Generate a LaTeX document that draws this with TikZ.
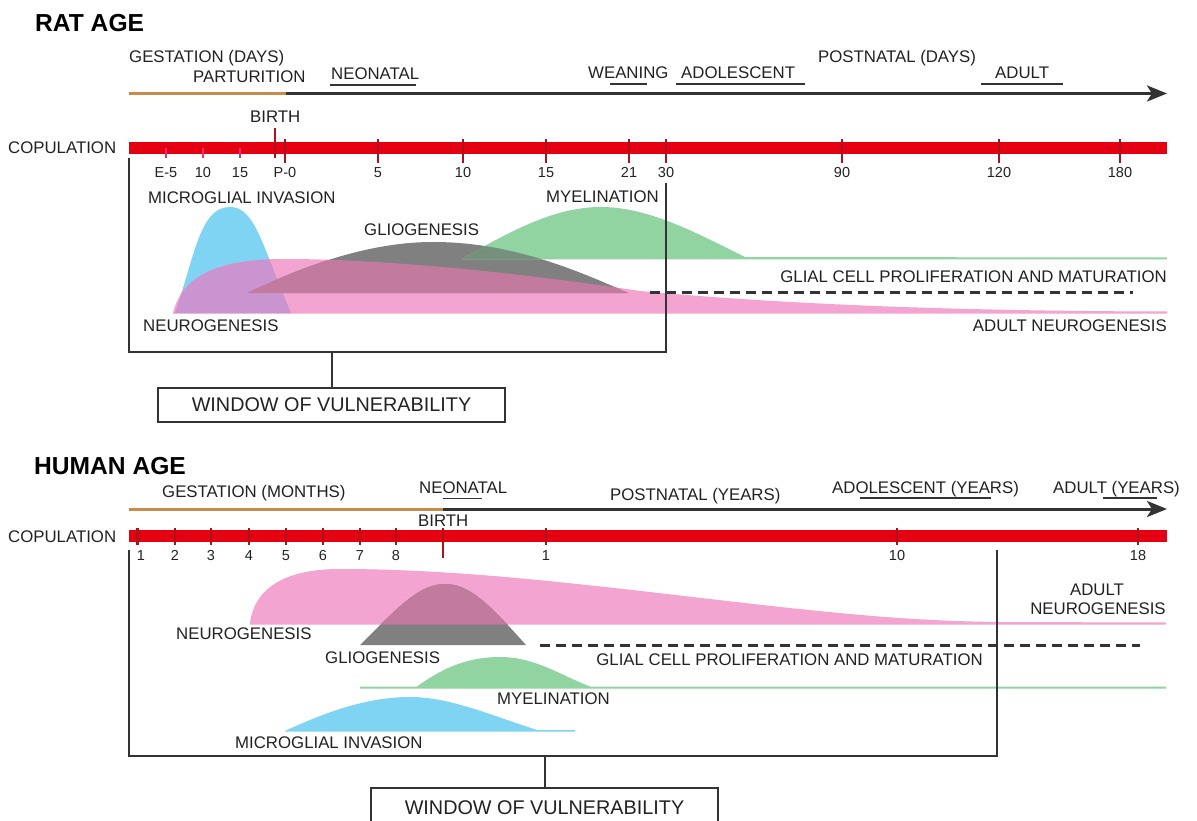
\documentclass[tikz,border=0pt]{standalone}
\usepackage{fontspec}
\setmainfont{Liberation Sans}
\usetikzlibrary{arrows.meta}
\definecolor{barred}{RGB}{228,0,17}
\definecolor{tickred}{RGB}{170,18,28}
\definecolor{tickpink}{RGB}{232,50,110}
\definecolor{ochre}{RGB}{200,140,72}
\definecolor{darkline}{RGB}{51,51,51}
\definecolor{cblue}{RGB}{127,212,244}
\definecolor{cpink}{RGB}{243,164,208}
\definecolor{cgray}{RGB}{128,128,128}
\definecolor{cgreen}{RGB}{145,211,161}
\definecolor{cmauve}{RGB}{194,122,158}
\definecolor{cpurple}{RGB}{201,148,207}
\definecolor{cgreengray}{RGB}{118,144,126}
\definecolor{txt}{RGB}{34,34,34}
\def\ratblue{(175,313) .. controls (195,255) and (200,207) .. (230,207) .. controls (255,207) and (262,245) .. (291,313) -- cycle}
\def\ratpink{(173,313) .. controls (182,275) and (220,259) .. (284,259) .. controls (400,259) and (540,276) .. (640,291) .. controls (760,302) and (920,311) .. (1167,311.5) -- (1167,313.5) -- (173,313.5) -- cycle}
\def\ratgray{(247,293) .. controls (320,258) and (380,242) .. (433,242) .. controls (500,242) and (560,262) .. (628,293) -- cycle}
\def\ratgreen{(462,259) .. controls (520,225) and (560,207) .. (601,207) .. controls (650,207) and (700,235) .. (745,257) -- (1167,257.5) -- (1167,259.5) -- (462,259.5) -- cycle}
\def\humpink{(250,623) .. controls (255,585) and (290,569) .. (340,569) .. controls (450,569) and (560,582) .. (650,592) .. controls (820,612) and (900,621) .. (1000,622) -- (1166,622.5) -- (1166,624.5) -- (250,624.5) -- cycle}
\def\humgray{(360,645) .. controls (400,605) and (420,584) .. (445,584) .. controls (470,584) and (490,605) .. (526,645) -- cycle}
\def\humgreen{(360,686.5) -- (417,686.5) .. controls (440,670) and (465,657) .. (500,657) .. controls (535,657) and (560,675) .. (590,686.5) -- (1166,686.5) -- (1166,688.5) -- (360,688.5) -- cycle}
\def\humblue{(285,731) .. controls (330,710) and (370,697) .. (410,697) .. controls (450,697) and (490,715) .. (537,730) -- (575,730) -- (575,731.5) -- (285,731.5) -- cycle}
\begin{document}
\begin{tikzpicture}[x=1pt,y=-1pt,
  lbl/.style={inner sep=0pt, anchor=base west, text=txt, font=\fontsize{16.8}{20}\selectfont},
  lblr/.style={lbl, anchor=base east},
  lblc/.style={lbl, anchor=base},
  ticklbl/.style={inner sep=0pt, anchor=base, text=txt, font=\fontsize{14.5}{17}\selectfont},
  titlelbl/.style={inner sep=0pt, anchor=base west, text=black, font=\fontsize{24.6}{28}\selectfont\bfseries},
  winbox/.style={draw=darkline, line width=2.5pt, inner sep=0pt, text=txt, font=\fontsize{19.8}{23}\selectfont},
  bracket/.style={draw=darkline, line width=2.5pt},
  uline/.style={draw=darkline, line width=1.3pt},
  redbar/.style={fill=barred},
  tickmark/.style={draw=tickred, line width=2.5pt},
  pinktick/.style={draw=tickpink, line width=2.5pt},
  gestline/.style={draw=ochre, line width=3pt},
  timeline/.style={draw=darkline, line width=3pt, -{Stealth[length=20pt,width=16pt,inset=5pt]}},
  dashline/.style={draw=darkline, line width=3pt, dash pattern=on 10pt off 6pt}
]
\useasboundingbox (0,0) rectangle (1197,821);
\fill[white] (0,0) rectangle (1197,821);

% ================= RAT =================
\node[titlelbl] (rattitle) at (35,31.5) {RAT AGE};
\node[lbl] (rgest) at (129,63) {GESTATION (DAYS)};
\node[lbl] (rpart) at (193,83) {PARTURITION};
\node[lbl] (rneo) at (331,80) {NEONATAL};
\draw[uline] (330,85) -- (416,85);
\node[lbl] (rwean) at (588,79) {WEANING};
\draw[uline] (610,84) -- (647,84);
\node[lbl] (radol) at (681,79) {ADOLESCENT};
\draw[uline] (676,84) -- (805,84);
\node[lbl] (rpost) at (818,63) {POSTNATAL (DAYS)};
\node[lbl] (radult) at (995,79) {ADULT};
\draw[uline] (981,84) -- (1063,84);

\coordinate (rg0) at (129,93.5);
\coordinate (rg1) at (286,93.5);
\coordinate (rg2) at (1167,93.5);
\draw[gestline] (rg0) -- (rg1);
\draw[timeline] (rg1) -- (rg2);

\node[lbl] (rbirth) at (250,123) {BIRTH};
\node[lbl] (rcop) at (8,154) {COPULATION};
\fill[redbar] (129,142) rectangle (1167,154);
\foreach \x in {166,203,240} \draw[pinktick] (\x,148) -- (\x,158);
\draw[tickmark] (275,128) -- (275,158);
\foreach \x in {285,378,463,546,629,666,842,999,1120} \draw[tickmark] (\x,139) -- (\x,163);
\foreach \x/\t [count=\i] in {166/E-5,203/10,240/15,285/P-0,378/5,463/10,546/15,629/21,666/30,842/90,999/120,1120/180}
  \node[ticklbl] (rtl\i) at (\x,178) {\t};

% curves
\fill[cblue] \ratblue;
\fill[cpink] \ratpink;
\fill[cgray] \ratgray;
\fill[cgreen] \ratgreen;
\begin{scope}\clip \ratpink; \fill[cpurple] \ratblue; \end{scope}
\begin{scope}\clip \ratpink; \fill[cmauve] \ratgray; \end{scope}
\begin{scope}\clip \ratgreen; \fill[cgreengray] \ratgray; \end{scope}
\coordinate (rd0) at (650,292);
\coordinate (rd1) at (1133,292);
\draw[dashline] (rd0) -- (rd1);

\node[lbl] (rmicro) at (148,204) {MICROGLIAL INVASION};
\node[lbl] (rglio) at (364,236) {GLIOGENESIS};
\node[lbl] (rmyel) at (546,203) {MYELINATION};
\node[lbl] (rneuro) at (143,331) {NEUROGENESIS};
\node[lblr] (rglial) at (1167,283) {GLIAL CELL PROLIFERATION AND MATURATION};
\node[lblr] (radneuro) at (1167,331) {ADULT NEUROGENESIS};

% window
\coordinate (rw0) at (129,158);
\coordinate (rw1) at (129,352);
\coordinate (rw2) at (666,352);
\coordinate (rw3) at (666,183);
\coordinate (rwm) at (332,352);
\draw[bracket] (rw0) -- (rw1) -- (rw2) -- (rw3);
\node[winbox, minimum width=347pt, minimum height=34pt] (rwin) at (331.5,405) {WINDOW OF VULNERABILITY};
\draw[bracket] (rwm) -- (rwin.north -| rwm);

% ================= HUMAN =================
\node[titlelbl] (humtitle) at (34,474) {HUMAN AGE};
\node[lbl] (hgest) at (162,497) {GESTATION (MONTHS)};
\node[lbl] (hneo) at (419,493) {NEONATAL};
\draw[uline] (443,498.5) -- (482,498.5);
\node[lbl] (hpost) at (610,500) {POSTNATAL (YEARS)};
\node[lbl] (hadol) at (832,493) {ADOLESCENT (YEARS)};
\draw[uline] (860,498) -- (991,498);
\node[lbl] (hadult) at (1053,493) {ADULT (YEARS)};
\draw[uline] (1103,498) -- (1157,498);

\coordinate (hg0) at (129,509);
\coordinate (hg1) at (443,509);
\coordinate (hg2) at (1167,509);
\draw[gestline] (hg0) -- (hg1);
\draw[timeline] (hg1) -- (hg2);

\node[lbl] (hbirth) at (418,526) {BIRTH};
\node[lbl] (hcop) at (8,542) {COPULATION};
\fill[redbar] (129,530) rectangle (1167,542);
\foreach \x in {137.5,175,211,249,286,323,360,396,546,897,1138} \draw[tickmark] (\x,528) -- (\x,545);
\draw[tickmark] (443,528) -- (443,558);
\foreach \x/\t [count=\i] in {141/1,175/2,211/3,249/4,286/5,323/6,360/7,396/8,546/1,897/10,1138/18}
  \node[ticklbl] (htl\i) at (\x,560) {\t};

% curves
\fill[cpink] \humpink;
\fill[cgray] \humgray;
\begin{scope}\clip \humpink; \fill[cmauve] \humgray; \end{scope}
\fill[cgreen] \humgreen;
\fill[cblue] \humblue;
\coordinate (hd0) at (540,645);
\coordinate (hd1) at (1140,645);
\draw[dashline] (hd0) -- (hd1);

\node[lbl] (hneuro) at (176,639) {NEUROGENESIS};
\node[lbl] (hglio) at (325,663) {GLIOGENESIS};
\node[lblr] (hglial) at (983,665) {GLIAL CELL PROLIFERATION AND MATURATION};
\node[lbl] (hmyel) at (497,704) {MYELINATION};
\node[lbl] (hmicro) at (235,748) {MICROGLIAL INVASION};
\node[lblc] (hadn1) at (1097,595) {ADULT};
\node[lblc] (hadn2) at (1098,614) {NEUROGENESIS};

% window
\coordinate (hw0) at (129,550);
\coordinate (hw1) at (129,756);
\coordinate (hw2) at (997,756);
\coordinate (hw3) at (997,550);
\coordinate (hwm) at (545,756);
\draw[bracket] (hw0) -- (hw1) -- (hw2) -- (hw3);
\node[winbox, minimum width=347pt, minimum height=44pt, text depth=0pt] (hwin) at (544.5,810) {};
\node[inner sep=0pt, anchor=base, text=txt, font=\fontsize{19.8}{23}\selectfont] (hwintext) at (544.5,814) {WINDOW OF VULNERABILITY};
\draw[bracket] (hwm) -- (hwin.north -| hwm);
\end{tikzpicture}
\end{document}
